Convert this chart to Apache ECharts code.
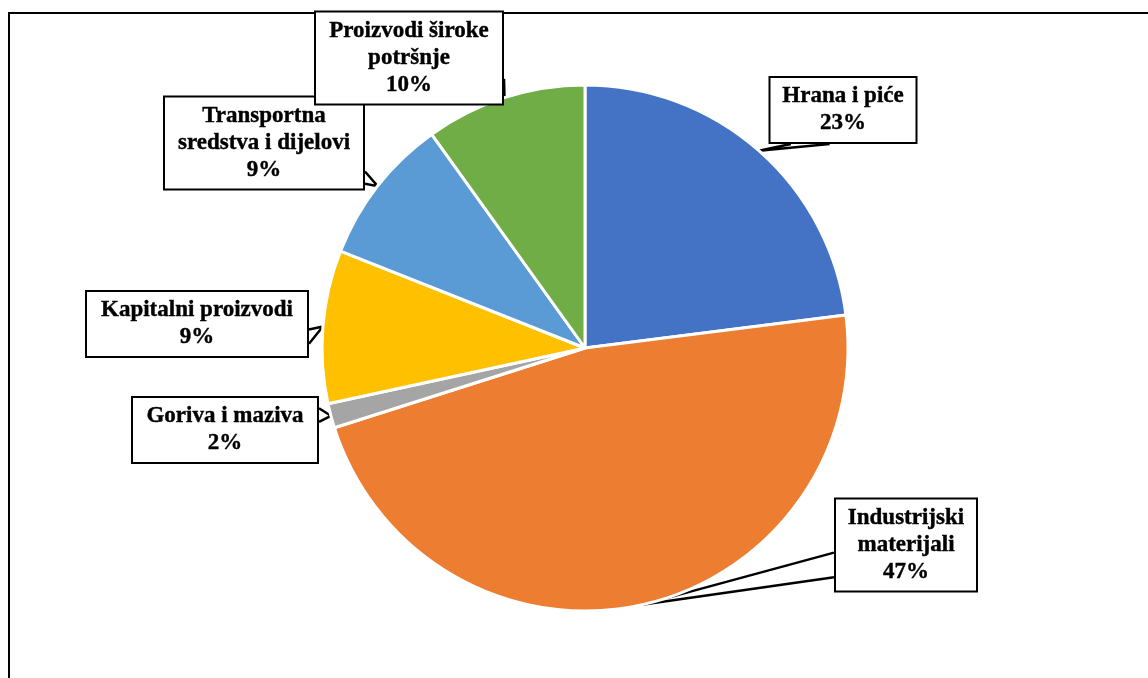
<!DOCTYPE html>
<html>
<head>
<meta charset="utf-8">
<script src="https://cdn.jsdelivr.net/npm/echarts@6/dist/echarts.min.js"></script>
<style>html,body{margin:0;padding:0;background:#fff}#c{width:1148px;height:678px}</style>
</head>
<body>
<div id="c"></div>
<script>
const categories = ['Hrana i piće', 'Industrijski\nmaterijali', 'Goriva i maziva', 'Kapitalni proizvodi', 'Transportna\nsredstva i dijelovi', 'Proizvodi široke\npotršnje'];
const values = [23.0, 47.1, 1.5, 9.4, 9.1, 9.9];
const colors = ['#4472C4', '#ED7D31', '#A5A5A5', '#FFC000', '#5B9BD5', '#70AD47'];
// label box centres, text widths and callout tail placement (layout only)
const labelPos = [[843, 110], [906, 545], [225, 430], [197, 324], [264, 143], [409, 58]];
const labelW = [125, 120, 164, 200, 178, 166];
const labelTail = [['bottom', 0.15, 0.41], ['left', 0.58, 0.84], ['right', 0.18, 0.38], ['right', 0.58, 0.79], ['right', 0.80, 0.93], ['right', 0.72, 0.97]];

function edgePoint(r, side, f) {
  if (side === 'bottom') return [r.x + r.width * f, r.y + r.height];
  if (side === 'top') return [r.x + r.width * f, r.y];
  if (side === 'left') return [r.x, r.y + r.height * f];
  return [r.x + r.width, r.y + r.height * f];
}

const chart = echarts.init(document.getElementById('c'));
chart.setOption({
  animation: false,
  graphic: [{
    type: 'rect', silent: true,
    shape: { x: 9, y: 13, width: 1300, height: 900 },
    style: { fill: 'none', stroke: '#000', lineWidth: 2 }
  }],
  series: [{
    type: 'pie',
    center: [585, 348],
    radius: 263,
    startAngle: 90,
    clockwise: true,
    percentPrecision: 0,
    avoidLabelOverlap: false,
    itemStyle: { borderColor: '#fff', borderWidth: 3 },
    label: {
      show: true,
      position: 'outside',
      formatter: '{b}\n{d}%',
      fontFamily: 'Liberation Serif',
      fontWeight: 'bold',
      fontSize: 23,
      lineHeight: 27,
      color: '#000',
      textBorderColor: '#000',
      textBorderWidth: 0.4,
      align: 'center',
      backgroundColor: '#fff',
      borderColor: '#000',
      borderWidth: 2,
      padding: [5, 10, 5, 10]
    },
    labelLine: { show: true, lineStyle: { color: '#000', width: 2.5 }, length: 10, length2: 10 },
    labelLayout: function (p) {
      const i = p.dataIndex;
      const w = p.labelRect.width, h = p.labelRect.height;
      const r = { x: labelPos[i][0] - w / 2, y: labelPos[i][1] - h / 2, width: w, height: h };
      const t = labelTail[i];
      const tip = p.labelLinePoints ? p.labelLinePoints[0] : null;
      const out = { x: labelPos[i][0], y: labelPos[i][1], align: 'center', verticalAlign: 'middle' };
      if (tip) out.labelLinePoints = [edgePoint(r, t[0], t[1]), tip.slice(), edgePoint(r, t[0], t[2])];
      return out;
    },
    data: categories.map((c, i) => ({
      name: c, value: values[i],
      itemStyle: { color: colors[i] },
      label: { width: labelW[i] }
    }))
  }]
});
</script>
</body>
</html>
